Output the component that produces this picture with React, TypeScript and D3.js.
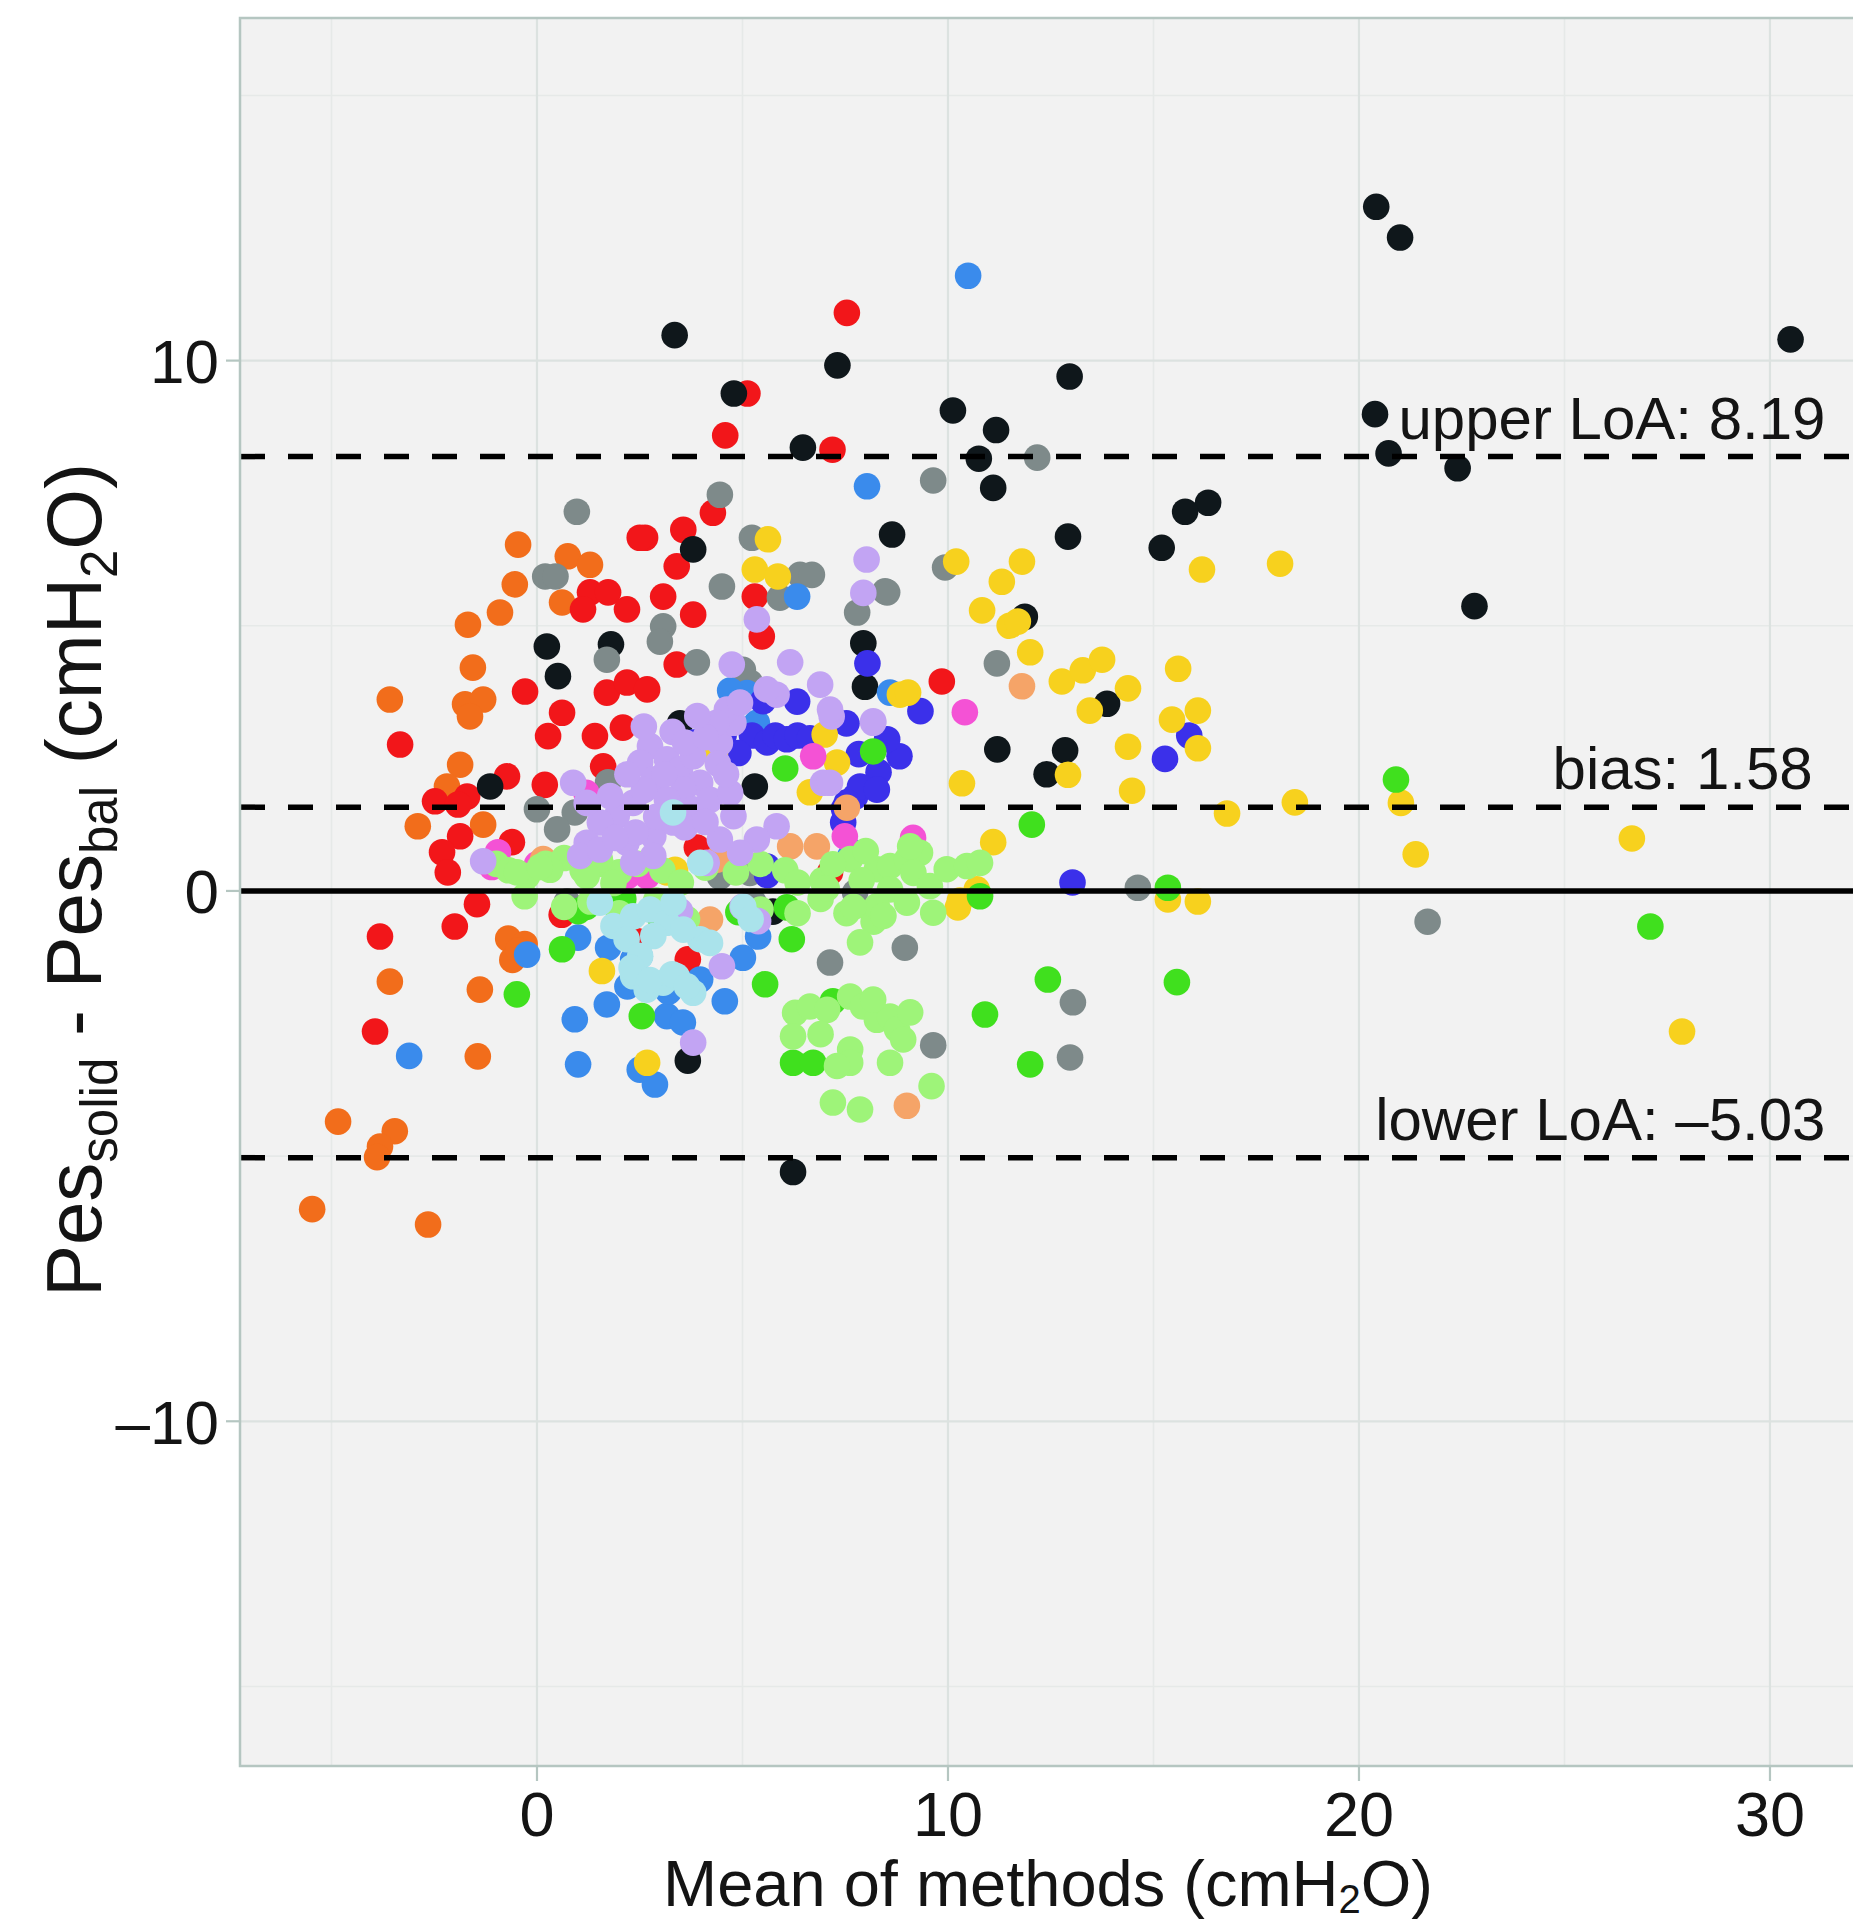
import React from "react";
import * as d3 from "d3";

// ---------- data (mean of methods, difference) ----------
const orangePts: [number, number][] = [
  [-0.46, 6.53], [0.75, 6.31], [1.29, 6.15], [-0.54, 5.78], [0.61, 5.44], [-0.9, 5.25], [-1.68, 5.02],
  [-1.56, 4.21], [-1.75, 3.52], [-1.31, 3.61], [-1.63, 3.29], [-3.58, 3.61], [-1.87, 2.38], [-2.19, 1.97],
  [-2.9, 1.22], [-1.31, 1.25], [-0.7, -0.9], [-0.3, -1.0], [-0.6, -1.3], [-0.45, -1.12], [-3.58, -1.71],
  [-1.39, -1.86], [-1.44, -3.12], [-4.84, -4.35], [-3.46, -4.53], [-3.82, -4.82], [-3.89, -5.02],
  [-5.47, -6.0], [-2.65, -6.29],
];
const redPts: [number, number][] = [
  [7.54, 10.9], [5.12, 9.38], [4.58, 8.59], [7.19, 8.32], [4.28, 7.13], [3.56, 6.81], [2.63, 6.66],
  [2.5, 6.66], [3.4, 6.12], [3.07, 5.55], [3.8, 5.21], [5.3, 5.55], [5.47, 4.8], [3.4, 4.27], [1.29, 5.63],
  [1.73, 5.63], [2.19, 5.31], [1.12, 5.31], [-0.29, 3.76], [0.61, 3.36], [0.27, 2.92], [1.7, 3.74],
  [2.19, 3.93], [2.68, 3.8], [1.41, 2.92], [2.09, 3.08], [-3.33, 2.76], [-0.73, 2.16], [0.19, 2.0],
  [1.61, 2.35], [-2.48, 1.69], [-1.7, 1.78], [-1.92, 1.63], [-1.87, 1.03], [-2.31, 0.73], [-0.61, 0.92],
  [-2.17, 0.35], [-1.46, -0.25], [-2.0, -0.67], [-3.82, -0.86], [-3.94, -2.65], [9.85, 3.95], [7.13, 0.35],
  [3.67, -1.29], [3.89, 0.82], [0.6, -0.45], [2.45, -0.95],
];
const blackPts: [number, number][] = [
  [20.42, 12.9], [21.0, 12.32], [30.5, 10.4], [3.35, 10.48], [4.79, 9.38], [7.31, 9.91], [12.96, 9.7],
  [10.12, 9.06], [11.17, 8.69], [6.47, 8.36], [10.75, 8.15], [11.1, 7.6], [20.39, 8.99], [20.72, 8.25],
  [22.4, 7.97], [22.81, 5.37], [16.33, 7.32], [15.77, 7.15], [15.2, 6.47], [12.92, 6.68], [8.64, 6.72],
  [3.8, 6.44], [0.24, 4.61], [1.8, 4.65], [0.51, 4.05], [3.48, 3.16], [7.94, 4.67], [7.98, 3.85],
  [11.87, 5.17], [13.87, 3.53], [11.2, 2.67], [12.85, 2.65], [12.4, 2.2], [5.3, 1.97], [-1.14, 1.97],
  [5.74, -0.39], [3.67, -3.2], [6.23, -5.3],
];
const greyPts: [number, number][] = [
  [4.45, 7.47], [0.97, 7.15], [5.23, 6.66], [4.5, 5.74], [5.91, 5.53], [6.4, 5.96], [6.69, 5.96],
  [8.47, 5.65], [7.79, 5.25], [0.2, 5.93], [0.45, 5.93], [3.07, 4.99], [2.99, 4.7], [1.7, 4.36],
  [3.89, 4.31], [5.01, 4.17], [5.18, 3.93], [1.73, 2.05], [0.0, 1.54], [0.92, 1.48], [0.49, 1.16],
  [0.73, -0.2], [4.45, 0.27], [5.18, 0.34], [7.74, -0.03], [9.64, 7.74], [12.17, 8.17], [9.93, 6.1],
  [8.52, 5.63], [11.19, 4.29], [8.95, -1.07], [9.64, -2.91], [13.04, -2.1], [12.97, -3.14],
  [14.62, 0.06], [21.67, -0.58], [7.13, -1.35], [5.26, -0.2],
];
const bluePts: [number, number][] = [
  [10.49, 11.6], [8.03, 7.63], [8.59, 3.74], [5.11, 3.73], [4.7, 3.78], [5.35, 3.17], [7.69, 0.73],
  [6.33, 5.55], [-3.11, -3.11], [0.92, -2.42], [1.0, -3.27], [1.7, -2.14], [1.0, -0.88], [1.73, -1.07],
  [2.87, -3.65], [2.5, -3.37], [-0.24, -1.2], [2.34, -1.29], [2.5, -1.23], [4.57, -2.08], [5.01, -1.26],
  [3.16, -2.36], [3.55, -2.48], [3.97, -1.67], [5.38, -0.86], [7.62, 0.65], [2.2, -1.8], [3.2, -1.9],
];
const indigoPts: [number, number][] = [
  [5.5, 3.58], [6.33, 3.57], [5.23, 2.93], [5.6, 2.8], [5.8, 2.93], [6.08, 2.86], [6.34, 2.93],
  [6.64, 2.88], [7.53, 3.16], [7.83, 2.58], [8.82, 2.54], [8.31, 2.24], [7.74, 1.78], [7.47, 1.55],
  [8.04, 4.29], [9.33, 3.39], [8.52, 2.86], [7.86, 1.97], [8.27, 1.91], [7.54, 1.67], [7.45, 1.29],
  [4.54, 2.93], [3.8, 2.8], [4.9, 2.6], [15.28, 2.49], [15.87, 2.93], [13.03, 0.16], [5.6, 0.46],
  [5.6, 0.3],
];
const yellowPts: [number, number][] = [
  [5.62, 6.63], [5.3, 6.06], [5.86, 5.93], [8.83, 3.7], [7.0, 2.95], [4.33, 2.58], [6.64, 1.86],
  [7.3, 2.42], [3.36, 0.4], [3.16, 0.35], [10.2, 6.21], [11.8, 6.21], [11.31, 5.83], [10.83, 5.29],
  [11.5, 5.0], [11.7, 5.08], [12.0, 4.5], [16.18, 6.06], [18.08, 6.17], [9.03, 3.74], [12.77, 3.95],
  [13.28, 4.16], [13.75, 4.36], [14.38, 3.82], [13.45, 3.4], [15.6, 4.19], [15.45, 3.23], [16.08, 3.4],
  [16.08, 2.69], [14.38, 2.72], [12.92, 2.19], [10.34, 2.03], [14.48, 1.89], [16.79, 1.46],
  [18.44, 1.67], [11.1, 0.92], [10.29, -0.18], [10.7, 0.03], [10.24, -0.31], [15.35, -0.16],
  [16.08, -0.2], [21.02, 1.66], [21.38, 0.69], [26.64, 0.99], [27.86, -2.65], [1.58, -1.51],
  [2.68, -3.24],
];
const greenPts: [number, number][] = [
  [20.9, 2.1], [27.09, -0.67], [12.04, 1.25], [15.57, -1.72], [12.43, -1.67], [10.9, -2.33],
  [12.0, -3.27], [15.35, 0.06], [10.78, -0.1], [6.04, 2.31], [8.18, 2.63], [0.61, -1.1], [-0.49, -1.95],
  [2.55, -2.36], [5.55, -1.76], [6.2, -0.91], [7.2, -2.08], [6.23, -3.24], [6.72, -3.24], [6.08, -0.31],
  [1.0, -0.38], [3.0, -0.5], [4.9, -0.4], [2.1, -0.15], [1.2, -0.3], [2.0, -0.45],
];
const pinkPts: [number, number][] = [
  [10.41, 3.37], [6.72, 2.54], [7.49, 1.03], [-0.95, 0.73], [-1.1, 0.45], [1.2, 1.85], [2.2, 0.28],
  [2.68, 0.28], [9.15, 1.0], [0.0, 0.5],
];
const peachPts: [number, number][] = [
  [11.8, 3.86], [9.0, -4.05], [6.16, 0.84], [6.81, 0.84], [4.38, 0.59], [0.15, 0.6], [7.54, 1.57],
  [4.21, -0.54],
];
const lightGreenPts: [number, number][] = [
  [-0.99, 0.51], [-0.69, 0.39], [-0.24, 0.28], [0.21, 0.51], [0.66, 0.62], [1.11, 0.39], [1.55, 0.51],
  [2.0, 0.35], [2.45, 0.51], [3.05, 0.39], [3.5, 0.16], [4.1, 0.44], [4.84, 0.35], [5.44, 0.51],
  [6.04, 0.39], [6.34, 0.16], [6.94, 0.2], [-0.49, 0.35], [0.32, 0.4], [1.53, 0.59], [0.07, 0.45],
  [1.21, 0.28], [1.86, 0.15], [0.66, -0.3], [2.0, -0.42], [2.9, -0.18], [3.65, -0.53], [5.44, -0.35],
  [6.34, -0.42], [7.53, -0.42], [8.19, -0.58], [-0.3, -0.1], [1.3, -0.2], [8.27, 0.41], [8.59, 0.47],
  [9.0, 0.59], [9.32, 0.72], [9.16, 0.34], [9.56, 0.09], [8.59, 0.03], [8.27, -0.29], [9.0, -0.22],
  [9.64, -0.41], [9.97, 0.41], [10.46, 0.47], [10.78, 0.53], [8.43, -0.47], [9.08, 0.84], [7.62, 0.6],
  [7.9, 0.2], [7.7, -0.3], [8.0, 0.75], [7.2, 0.5], [6.9, -0.15], [7.05, 0.05], [6.28, -2.3],
  [6.64, -2.18], [7.06, -2.24], [7.62, -1.99], [7.93, -2.18], [8.27, -2.43], [8.59, -2.37], [6.23, -2.74],
  [7.62, -2.99], [8.76, -2.61], [7.62, -3.24], [8.59, -3.24], [7.2, -3.99], [7.86, -4.12], [8.18, -2.05],
  [9.08, -2.29], [8.91, -2.8], [9.6, -3.68], [7.86, -0.97], [6.9, -2.7], [7.3, -3.3],
];
const lavenderPts: [number, number][] = [
  [8.02, 6.25], [7.94, 5.62], [8.18, 3.2], [5.35, 5.12], [6.16, 4.31], [6.89, 3.89], [5.83, 3.7],
  [4.74, 4.27], [7.17, 3.29], [8.18, 3.17], [6.96, 2.04], [-1.31, 0.56], [3.8, -2.86], [4.5, -1.42],
  [3.48, -0.38], [5.38, -0.57], [5.0, -0.3], [2.75, 2.73], [2.51, 2.42], [3.16, 2.48], [2.83, 2.1],
  [3.48, 2.29], [3.8, 2.54], [3.97, 2.04], [4.45, 2.79], [4.78, 3.17], [4.62, 3.42], [4.94, 3.55],
  [4.37, 3.17], [3.56, 1.91], [3.16, 1.72], [2.34, 1.66], [1.94, 1.41], [1.53, 1.29], [1.21, 0.91],
  [1.05, 0.66], [1.53, 0.78], [2.18, 0.91], [2.83, 1.03], [3.32, 1.29], [3.8, 1.54], [4.21, 1.72],
  [4.7, 1.85], [4.78, 1.41], [4.45, 0.97], [4.13, 0.53], [2.83, 0.66], [2.34, 0.53], [1.78, 1.79],
  [0.88, 2.04], [1.21, 1.66], [5.59, 3.8], [5.83, 1.22], [5.35, 0.97], [4.94, 0.72], [7.13, 2.04],
  [7.13, 3.42], [2.6, 3.1], [3.3, 3.0], [3.6, 2.8], [4.1, 2.9], [4.4, 2.4], [3.1, 2.2], [2.6, 1.9],
  [2.9, 1.4], [3.6, 1.2], [4.1, 1.3], [2.4, 1.1], [1.9, 1.0], [4.6, 2.2], [2.2, 2.2], [3.9, 3.3],
];
const cyanPts: [number, number][] = [
  [1.86, -0.66], [2.34, -0.48], [2.75, -0.35], [3.16, -0.6], [2.83, -0.85], [2.18, -0.91], [2.51, -1.23],
  [2.34, -1.61], [2.67, -1.86], [3.07, -1.73], [3.4, -1.61], [3.8, -1.92], [3.97, -0.91], [3.56, -0.73],
  [1.53, -0.22], [4.21, -0.98], [3.32, -0.22], [2.3, -1.45], [2.75, -1.68], [3.29, -1.57], [3.65, -1.8],
  [5.02, -0.3], [5.2, -0.53], [3.31, 1.48], [3.97, 0.53],
];

const groupColors = {
  orange: "#f26d1b",
  red: "#f2161a",
  black: "#0f171b",
  grey: "#7e8a8a",
  blue: "#3a8bec",
  indigo: "#3b30ea",
  yellow: "#f7d11e",
  green: "#40e01e",
  pink: "#f452d5",
  peach: "#f5a468",
  lightGreen: "#9ef479",
  lavender: "#c2a4f3",
  cyan: "#aae3eb",
};

const xMajorTicks = [0, 10, 20, 30];
const xMinorTicks = [-5, 5, 15, 25];
const yMajorTicks = [-10, 0, 10];
const yMinorTicks = [-15, -5, 5, 15];
const yTickLabels = ["\u201310", "0", "10"];

const biasValue = 1.58;
const upperLoA = 8.19;
const lowerLoA = -5.03;

const X_DOMAIN: [number, number] = [-7.226, 32.02];
const Y_DOMAIN: [number, number] = [-16.5, 16.46];

export default function App() {
  const W = 1853;
  const H = 1923;
  const left = 240;
  const right = 1853;
  const top = 18;
  const bottom = 1766;

  const x = d3.scaleLinear().domain(X_DOMAIN).range([left, right]);
  const y = d3.scaleLinear().domain(Y_DOMAIN).range([bottom, top]);

  const groups: { key: string; color: string; pts: [number, number][] }[] = [
    { key: "orange", color: groupColors.orange, pts: orangePts },
    { key: "red", color: groupColors.red, pts: redPts },
    { key: "black", color: groupColors.black, pts: blackPts },
    { key: "grey", color: groupColors.grey, pts: greyPts },
    { key: "blue", color: groupColors.blue, pts: bluePts },
    { key: "indigo", color: groupColors.indigo, pts: indigoPts },
    { key: "yellow", color: groupColors.yellow, pts: yellowPts },
    { key: "green", color: groupColors.green, pts: greenPts },
    { key: "pink", color: groupColors.pink, pts: pinkPts },
    { key: "peach", color: groupColors.peach, pts: peachPts },
    { key: "lightGreen", color: groupColors.lightGreen, pts: lightGreenPts },
    { key: "lavender", color: groupColors.lavender, pts: lavenderPts },
    { key: "cyan", color: groupColors.cyan, pts: cyanPts },
  ];

  const font = "'Liberation Sans', Arial, Helvetica, sans-serif";
  const textColor = "#141414";
  const borderColor = "#b5c6c1";
  const R = 13.3;

  const loaLines = [
    { v: upperLoA, label: `upper LoA: ${upperLoA.toFixed(2)}`, lx: 31.35 },
    { v: biasValue, label: `bias: ${biasValue.toFixed(2)}`, lx: 31.04 },
    { v: lowerLoA, label: `lower LoA: \u2013${Math.abs(lowerLoA).toFixed(2)}`, lx: 31.35 },
  ];

  return (
    <svg
      width={W}
      height={H}
      style={{ position: "absolute", left: 0, top: 0, display: "block", background: "#ffffff" }}
      fontFamily={font}
    >
      <defs>
        <clipPath id="panelClip">
          <rect x={left} y={top} width={right - left + 20} height={bottom - top} />
        </clipPath>
      </defs>
      {/* panel */}
      <rect x={left} y={top} width={right - left + 20} height={bottom - top} fill="#f2f2f2" />
      {/* minor grid */}
      {xMinorTicks.map((t) => (
        <line key={"xm" + t} x1={x(t)} x2={x(t)} y1={top} y2={bottom} stroke="#e6e9e8" strokeWidth={1.6} />
      ))}
      {yMinorTicks.map((t) => (
        <line key={"ym" + t} x1={left} x2={right} y1={y(t)} y2={y(t)} stroke="#e6e9e8" strokeWidth={1.6} />
      ))}
      {/* major grid */}
      {xMajorTicks.map((t) => (
        <line key={"xM" + t} x1={x(t)} x2={x(t)} y1={top} y2={bottom} stroke="#dce2e0" strokeWidth={2.2} />
      ))}
      {yMajorTicks.map((t) => (
        <line key={"yM" + t} x1={left} x2={right} y1={y(t)} y2={y(t)} stroke="#dce2e0" strokeWidth={2.2} />
      ))}

      {/* points */}
      <g clipPath="url(#panelClip)">
        {groups.map((g) => (
          <g key={g.key} fill={g.color}>
            {g.pts.map((p, i) => (
              <circle key={i} cx={x(p[0])} cy={y(p[1])} r={R} />
            ))}
          </g>
        ))}
      </g>

      {/* reference lines */}
      <line x1={left} x2={right} y1={y(0)} y2={y(0)} stroke="#000" strokeWidth={5.5} />
      {loaLines.map((l) => (
        <line
          key={"l" + l.v}
          x1={left}
          x2={right}
          y1={y(l.v)}
          y2={y(l.v)}
          stroke="#000"
          strokeWidth={5.5}
          strokeDasharray="25 23"
        />
      ))}
      {loaLines.map((l) => (
        <text
          key={"t" + l.v}
          x={x(l.lx)}
          y={y(l.v) - 18}
          textAnchor="end"
          fontSize={60}
          fill={textColor}
        >
          {l.label}
        </text>
      ))}

      {/* panel border */}
      <rect
        x={left}
        y={top}
        width={right - left + 20}
        height={bottom - top}
        fill="none"
        stroke={borderColor}
        strokeWidth={2.5}
      />

      {/* y axis ticks + labels */}
      {yMajorTicks.map((t, i) => (
        <g key={"yt" + t}>
          <line x1={left - 14} x2={left} y1={y(t)} y2={y(t)} stroke={borderColor} strokeWidth={2.2} />
          <text x={left - 21} y={y(t)} dy="0.36em" textAnchor="end" fontSize={62} fill={textColor}>
            {yTickLabels[i]}
          </text>
        </g>
      ))}
      {/* x axis ticks + labels */}
      {xMajorTicks.map((t) => (
        <g key={"xt" + t}>
          <line x1={x(t)} x2={x(t)} y1={bottom} y2={bottom + 15} stroke={borderColor} strokeWidth={2.2} />
          <text x={x(t)} y={1836} textAnchor="middle" fontSize={63} fill={textColor}>
            {String(t)}
          </text>
        </g>
      ))}

      {/* x title */}
      <text x={1048} y={1906} textAnchor="middle" fontSize={65} fill={textColor}>
        Mean of methods (cmH
        <tspan fontSize={40} dy={7}>2</tspan>
        <tspan fontSize={65} dy={-7}>O)</tspan>
      </text>

      {/* y title */}
      <text
        transform="translate(101, 880) rotate(-90)"
        textAnchor="middle"
        fontSize={78}
        fill={textColor}
      >
        Pes
        <tspan fontSize={51} dy={16}>solid</tspan>
        <tspan fontSize={78} dy={-16}> - Pes</tspan>
        <tspan fontSize={51} dy={16}>bal</tspan>
        <tspan fontSize={78} dy={-16}> (cmH</tspan>
        <tspan fontSize={51} dy={16}>2</tspan>
        <tspan fontSize={78} dy={-16}>O)</tspan>
      </text>
    </svg>
  );
}
